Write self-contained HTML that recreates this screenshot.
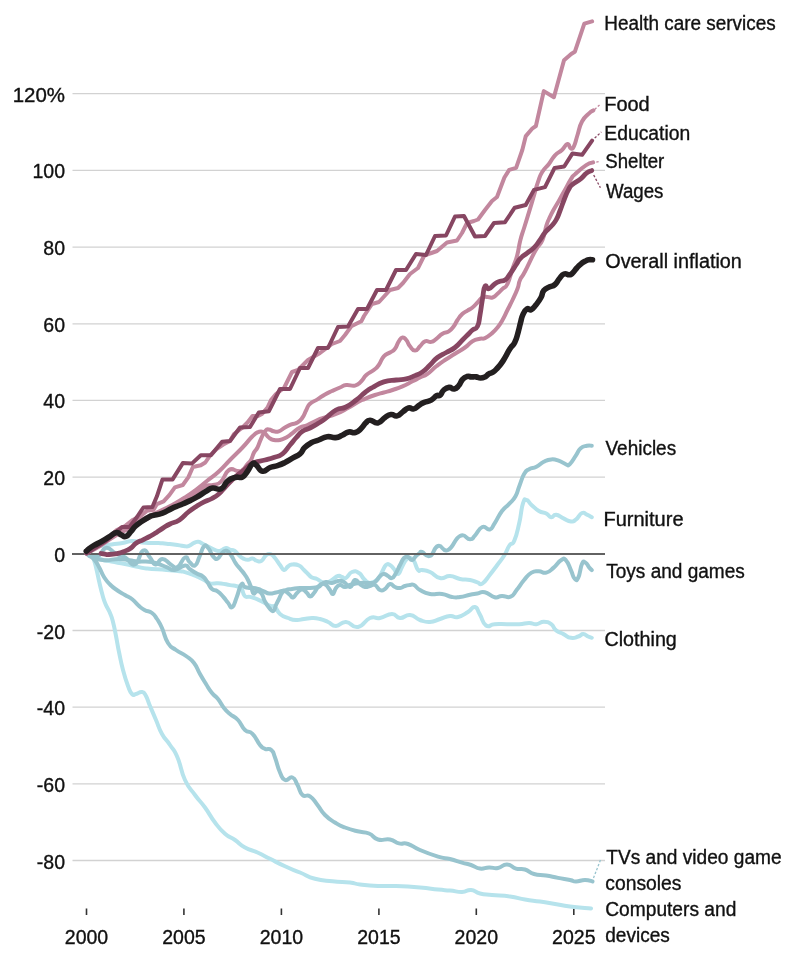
<!DOCTYPE html>
<html><head><meta charset="utf-8"><style>
html,body{margin:0;padding:0;background:#fff;}
svg{display:block;will-change:transform;}
text{font-family:'Liberation Sans',sans-serif;font-size:19.5px;fill:#111;stroke:#111;stroke-width:0.35px;}
</style></head><body>
<svg width="800" height="975" viewBox="0 0 800 975">
<rect width="800" height="975" fill="#fff"/>
<line x1="72.5" x2="605" y1="93.7" y2="93.7" stroke="#d2d2d2" stroke-width="1.3"/>
<line x1="72.5" x2="605" y1="170.4" y2="170.4" stroke="#d2d2d2" stroke-width="1.3"/>
<line x1="72.5" x2="605" y1="247.1" y2="247.1" stroke="#d2d2d2" stroke-width="1.3"/>
<line x1="72.5" x2="605" y1="323.8" y2="323.8" stroke="#d2d2d2" stroke-width="1.3"/>
<line x1="72.5" x2="605" y1="400.4" y2="400.4" stroke="#d2d2d2" stroke-width="1.3"/>
<line x1="72.5" x2="605" y1="477.1" y2="477.1" stroke="#d2d2d2" stroke-width="1.3"/>
<line x1="72.5" x2="605" y1="630.5" y2="630.5" stroke="#d2d2d2" stroke-width="1.3"/>
<line x1="72.5" x2="605" y1="707.2" y2="707.2" stroke="#d2d2d2" stroke-width="1.3"/>
<line x1="72.5" x2="605" y1="783.8" y2="783.8" stroke="#d2d2d2" stroke-width="1.3"/>
<line x1="72.5" x2="605" y1="860.5" y2="860.5" stroke="#d2d2d2" stroke-width="1.3"/>
<text x="65" y="101.7" text-anchor="end" textLength="52.3" lengthAdjust="spacingAndGlyphs">120%</text>
<text x="65" y="178.4" text-anchor="end">100</text>
<text x="65" y="255.1" text-anchor="end">80</text>
<text x="65" y="331.8" text-anchor="end">60</text>
<text x="65" y="408.4" text-anchor="end">40</text>
<text x="65" y="485.1" text-anchor="end">20</text>
<text x="65" y="561.8" text-anchor="end">0</text>
<text x="65" y="638.5" text-anchor="end">-20</text>
<text x="65" y="715.2" text-anchor="end">-40</text>
<text x="65" y="791.8" text-anchor="end">-60</text>
<text x="65" y="868.5" text-anchor="end">-80</text>
<line x1="86.5" x2="86.5" y1="908.5" y2="915" stroke="#333" stroke-width="1.6"/>
<text x="86.5" y="944" text-anchor="middle">2000</text>
<line x1="183.9" x2="183.9" y1="908.5" y2="915" stroke="#333" stroke-width="1.6"/>
<text x="183.9" y="944" text-anchor="middle">2005</text>
<line x1="281.4" x2="281.4" y1="908.5" y2="915" stroke="#333" stroke-width="1.6"/>
<text x="281.4" y="944" text-anchor="middle">2010</text>
<line x1="378.9" x2="378.9" y1="908.5" y2="915" stroke="#333" stroke-width="1.6"/>
<text x="378.9" y="944" text-anchor="middle">2015</text>
<line x1="476.3" x2="476.3" y1="908.5" y2="915" stroke="#333" stroke-width="1.6"/>
<text x="476.3" y="944" text-anchor="middle">2020</text>
<line x1="573.8" x2="573.8" y1="908.5" y2="915" stroke="#333" stroke-width="1.6"/>
<text x="573.8" y="944" text-anchor="middle">2025</text>
<path d="M86.5,553.5 C88.0,552.3 89.0,550.9 92.0,549.0 C95.0,547.1 92.6,547.7 97.8,546.5 C103.0,545.3 104.9,545.3 111.5,544.4 C118.1,543.5 117.0,543.9 122.5,543.0 C128.0,542.1 127.0,541.2 132.1,541.0 C137.2,540.8 137.0,541.9 141.8,542.4 C146.6,542.9 145.6,542.8 150.0,543.0 C154.4,543.2 153.9,542.8 158.3,543.0 C162.7,543.2 161.4,543.3 166.5,543.8 C171.6,544.3 172.6,544.3 177.5,545.0 C182.4,545.7 181.8,546.1 185.0,546.3 C188.2,546.5 187.1,546.6 189.5,545.7 C191.9,544.8 191.6,543.9 194.0,542.9 C196.4,541.9 196.1,541.5 198.5,541.8 C200.9,542.1 200.6,542.8 203.0,544.0 C205.4,545.2 204.8,545.0 207.5,546.3 C210.2,547.6 210.2,547.7 213.0,549.0 C215.8,550.3 215.6,550.7 218.0,551.0 C220.4,551.3 219.9,550.8 222.0,550.0 C224.1,549.2 223.9,548.1 226.0,548.0 C228.1,547.9 227.7,548.9 230.0,549.6 C232.3,550.3 232.1,549.3 234.5,550.8 C236.9,552.3 236.6,553.2 239.0,555.3 C241.4,557.4 241.1,557.4 243.5,558.6 C245.9,559.8 245.6,559.8 248.0,559.8 C250.4,559.8 250.1,558.3 252.5,558.6 C254.9,558.9 254.6,560.3 257.0,560.9 C259.4,561.5 259.1,562.4 261.5,560.9 C263.9,559.4 263.6,557.1 266.0,555.3 C268.4,553.5 268.1,553.4 270.5,554.1 C272.9,554.8 272.5,555.1 275.0,558.0 C277.5,560.9 277.6,561.8 280.0,565.0 C282.4,568.2 281.9,569.6 284.0,570.0 C286.1,570.4 285.9,568.0 288.0,566.5 C290.1,565.0 289.1,564.8 292.0,564.5 C294.9,564.2 295.8,564.0 299.0,565.5 C302.2,567.0 301.3,567.5 304.0,570.0 C306.7,572.5 306.9,573.0 309.0,575.0 C311.1,577.0 309.9,576.4 312.0,577.5 C314.1,578.6 314.6,577.9 317.0,579.0 C319.4,580.1 318.6,580.4 321.0,581.5 C323.4,582.6 323.1,583.4 326.0,583.0 C328.9,582.6 328.8,581.9 332.0,580.0 C335.2,578.1 335.3,576.8 338.0,576.0 C340.7,575.2 339.9,576.5 342.0,577.0 C344.1,577.5 343.3,579.3 346.0,578.0 C348.7,576.7 348.5,573.3 352.0,572.0 C355.5,570.7 355.8,571.1 359.0,573.0 C362.2,574.9 361.1,576.3 364.0,579.0 C366.9,581.7 366.3,583.0 370.0,583.0 C373.7,583.0 374.8,581.9 378.0,579.0 C381.2,576.1 379.9,575.7 382.0,572.0 C384.1,568.3 383.9,566.9 386.0,565.0 C388.1,563.1 387.9,563.9 390.0,565.0 C392.1,566.1 391.9,566.6 394.0,569.0 C396.1,571.4 395.9,574.5 398.0,574.0 C400.1,573.5 399.9,570.7 402.0,567.0 C404.1,563.3 403.9,562.4 406.0,560.0 C408.1,557.6 407.9,557.7 410.0,558.0 C412.1,558.3 411.9,557.8 414.0,561.0 C416.1,564.2 415.9,567.6 418.0,570.0 C420.1,572.4 418.8,569.5 422.0,570.0 C425.2,570.5 425.2,569.9 430.0,572.0 C434.8,574.1 434.7,576.9 440.0,578.0 C445.3,579.1 444.7,575.7 450.0,576.0 C455.3,576.3 454.7,577.9 460.0,579.0 C465.3,580.1 465.4,579.1 470.0,580.0 C474.6,580.9 474.1,581.4 477.4,582.4 C480.7,583.4 479.0,585.6 482.3,583.6 C485.6,581.6 485.8,579.9 489.7,575.0 C493.6,570.1 493.2,570.5 497.1,565.2 C501.0,559.9 501.1,560.6 504.4,555.3 C507.7,550.0 506.8,549.4 509.4,545.5 C512.0,541.6 511.7,546.5 514.3,540.6 C516.9,534.7 516.9,533.1 519.2,523.3 C521.5,513.5 520.9,509.9 522.9,503.7 C524.9,497.5 524.3,499.7 526.6,500.0 C528.9,500.3 528.2,502.0 531.5,504.9 C534.8,507.8 535.0,508.7 538.9,511.0 C542.8,513.3 543.0,511.8 546.3,513.5 C549.6,515.2 548.6,516.9 551.2,517.2 C553.8,517.5 552.8,514.4 556.1,514.7 C559.4,515.0 559.6,516.6 563.5,518.4 C567.4,520.2 567.6,521.1 570.9,521.4 C574.2,521.7 572.8,521.9 575.8,519.7 C578.8,517.5 579.0,514.3 582.0,513.0 C585.0,511.7 584.3,513.6 586.9,514.7 C589.5,515.8 590.5,516.5 591.8,517.2" fill="none" stroke="#b6e3ec" stroke-width="4.0" stroke-linejoin="round" stroke-linecap="round"/>
<path d="M86.5,553.5 C90.1,555.0 93.3,556.8 100.0,559.0 C106.7,561.2 104.8,560.3 111.5,561.6 C118.2,562.9 117.7,562.5 125.0,564.0 C132.3,565.5 133.1,565.9 139.0,567.1 C144.9,568.3 140.0,567.8 147.3,568.5 C154.6,569.2 157.7,569.2 166.5,569.9 C175.3,570.6 175.4,570.7 180.3,571.3 C185.2,571.9 181.9,571.3 185.0,572.1 C188.1,572.9 188.3,573.1 191.8,574.4 C195.3,575.7 194.7,575.5 198.0,577.0 C201.3,578.5 201.0,578.3 204.1,580.0 C207.2,581.7 207.1,582.5 209.8,583.4 C212.5,584.3 211.3,583.4 214.3,583.4 C217.3,583.4 216.8,582.9 221.0,583.4 C225.2,583.9 225.8,584.4 230.0,585.1 C234.2,585.8 233.8,585.5 236.8,586.2 C239.8,586.9 239.2,585.3 241.3,587.9 C243.4,590.5 242.2,593.4 244.6,595.8 C247.0,598.2 247.0,596.0 250.3,596.9 C253.6,597.8 253.4,597.6 257.0,599.1 C260.6,600.6 260.2,600.7 263.8,602.5 C267.4,604.3 267.5,604.7 270.5,605.9 C273.5,607.1 272.5,604.8 275.0,607.0 C277.5,609.2 276.5,611.1 280.0,614.0 C283.5,616.9 283.7,616.4 288.0,618.0 C292.3,619.6 291.7,619.7 296.0,620.0 C300.3,620.3 299.7,619.5 304.0,619.0 C308.3,618.5 307.7,618.0 312.0,618.0 C316.3,618.0 315.7,617.9 320.0,619.0 C324.3,620.1 323.7,620.1 328.0,622.0 C332.3,623.9 331.2,626.0 336.0,626.0 C340.8,626.0 340.1,621.7 346.0,622.0 C351.9,622.3 351.6,628.1 358.0,627.0 C364.4,625.9 364.1,620.4 370.0,618.0 C375.9,615.6 374.1,619.1 380.0,618.0 C385.9,616.9 386.7,614.0 392.0,614.0 C397.3,614.0 395.2,617.7 400.0,618.0 C404.8,618.3 404.7,614.5 410.0,615.0 C415.3,615.5 414.7,618.1 420.0,620.0 C425.3,621.9 424.7,622.3 430.0,622.0 C435.3,621.7 434.7,620.6 440.0,619.0 C445.3,617.4 445.2,616.5 450.0,616.0 C454.8,615.5 453.2,618.1 458.0,617.0 C462.8,615.9 463.5,614.7 468.0,612.0 C472.5,609.3 471.8,606.4 474.9,607.0 C478.0,607.6 476.8,609.5 479.8,614.4 C482.8,619.3 482.1,622.9 486.0,625.5 C489.9,628.1 489.0,624.5 494.6,624.2 C500.2,623.9 500.3,624.2 506.9,624.2 C513.5,624.2 513.3,624.5 519.2,624.2 C525.1,623.9 524.5,623.0 529.1,623.0 C533.7,623.0 532.5,624.5 536.4,624.2 C540.3,623.9 539.9,621.8 543.8,621.8 C547.7,621.8 547.9,621.9 551.2,624.2 C554.5,626.5 552.8,627.8 556.1,630.4 C559.4,633.0 559.6,632.1 563.5,634.1 C567.4,636.1 567.0,637.2 570.9,637.8 C574.8,638.4 575.0,637.5 578.3,636.5 C581.6,635.5 580.6,634.1 583.2,634.1 C585.8,634.1 585.8,635.5 588.1,636.5 C590.4,637.5 590.8,637.5 591.8,637.8" fill="none" stroke="#b6e3ec" stroke-width="4.0" stroke-linejoin="round" stroke-linecap="round"/>
<path d="M86.5,553.5 C87.4,553.9 88.1,553.5 90.0,555.0 C91.9,556.5 91.8,555.1 93.5,559.0 C95.2,562.9 94.9,563.1 96.5,569.5 C98.1,575.9 97.9,576.2 99.5,583.0 C101.1,589.8 100.9,589.4 102.5,595.0 C104.1,600.6 103.5,599.2 105.5,604.0 C107.5,608.8 108.0,608.2 110.0,613.0 C112.0,617.8 111.4,615.9 113.0,622.0 C114.6,628.1 114.4,628.0 116.0,636.0 C117.6,644.0 117.1,642.9 119.0,652.0 C120.9,661.1 120.6,660.9 123.0,670.0 C125.4,679.1 125.6,679.6 128.0,686.0 C130.4,692.4 129.9,691.9 132.0,694.0 C134.1,696.1 133.3,694.5 136.0,694.0 C138.7,693.5 139.3,691.5 142.0,692.0 C144.7,692.5 143.9,692.3 146.0,696.0 C148.1,699.7 147.3,699.6 150.0,706.0 C152.7,712.4 152.8,712.5 156.0,720.0 C159.2,727.5 158.3,727.3 162.0,734.0 C165.7,740.7 165.9,738.7 170.0,745.0 C174.1,751.3 173.5,748.2 177.5,757.5 C181.5,766.8 180.3,770.0 185.0,780.0 C189.7,790.0 189.7,787.7 195.0,795.0 C200.3,802.3 199.7,800.2 205.0,807.5 C210.3,814.8 209.7,815.5 215.0,822.5 C220.3,829.5 219.7,829.1 225.0,833.8 C230.3,838.5 229.7,836.3 235.0,840.0 C240.3,843.7 239.0,844.2 245.0,847.5 C251.0,850.8 250.8,849.5 257.5,852.5 C264.2,855.5 262.7,855.1 270.0,858.8 C277.3,862.5 277.0,862.6 285.0,866.3 C293.0,870.0 292.0,869.2 300.0,872.5 C308.0,875.8 306.3,876.5 315.0,878.8 C323.7,881.1 323.2,880.3 332.5,881.3 C341.8,882.3 342.7,881.6 350.0,882.5 C357.3,883.4 352.5,883.6 360.0,884.5 C367.5,885.4 368.4,885.6 378.0,886.0 C387.6,886.4 384.8,885.6 396.0,886.0 C407.2,886.4 408.8,886.5 420.0,887.5 C431.2,888.5 430.0,888.8 438.0,889.6 C446.0,890.4 443.6,889.9 450.0,890.5 C456.4,891.1 456.4,892.1 462.0,892.0 C467.6,891.9 466.2,889.6 471.0,890.0 C475.8,890.4 474.4,892.2 480.0,893.5 C485.6,894.8 484.0,894.2 492.0,895.0 C500.0,895.8 501.2,895.3 510.0,896.5 C518.8,897.7 517.0,898.1 525.0,899.5 C533.0,900.9 532.0,900.4 540.0,901.6 C548.0,902.8 547.0,902.7 555.0,904.0 C563.0,905.3 560.4,905.2 570.0,906.4 C579.6,907.6 585.4,907.9 591.0,908.5" fill="none" stroke="#b6e3ec" stroke-width="4.0" stroke-linejoin="round" stroke-linecap="round"/>
<path d="M86.5,553.5 C88.0,554.6 87.5,555.7 92.3,557.5 C97.1,559.3 97.6,559.9 104.6,560.3 C111.6,560.7 111.8,558.9 118.4,558.9 C125.0,558.9 124.3,559.6 129.4,560.3 C134.5,561.0 133.2,561.3 137.6,561.6 C142.0,561.9 141.1,561.2 145.9,561.6 C150.7,562.0 150.0,561.5 155.5,563.0 C161.0,564.5 161.4,565.3 166.5,567.1 C171.6,568.9 169.9,570.4 174.8,569.9 C179.7,569.4 181.1,565.7 185.0,565.4 C188.9,565.1 186.5,566.7 189.5,568.8 C192.5,570.9 192.7,571.2 196.3,573.3 C199.9,575.4 200.0,574.2 203.0,576.6 C206.0,579.0 205.1,579.0 207.5,582.3 C209.9,585.6 209.3,586.6 212.0,589.0 C214.7,591.4 214.6,589.2 217.6,591.3 C220.6,593.4 220.6,593.9 223.3,596.9 C226.0,599.9 225.4,599.8 227.8,602.5 C230.2,605.2 229.9,608.5 232.3,607.0 C234.7,605.5 234.4,602.9 236.8,596.9 C239.2,590.9 239.2,587.2 241.3,584.5 C243.4,581.8 242.5,585.9 244.6,586.8 C246.7,587.7 246.7,587.6 249.1,587.9 C251.5,588.2 251.2,587.6 253.6,587.9 C256.0,588.2 255.4,588.1 258.1,589.0 C260.8,589.9 260.8,590.1 263.8,591.3 C266.8,592.5 266.1,593.2 269.4,593.5 C272.7,593.8 272.6,593.2 276.0,592.5 C279.4,591.8 279.6,591.4 282.0,591.0 C284.4,590.6 282.9,589.9 285.0,591.0 C287.1,592.1 287.9,593.3 290.0,595.0 C292.1,596.7 291.1,598.0 293.0,597.5 C294.9,597.0 294.6,595.1 297.0,593.0 C299.4,590.9 299.3,589.5 302.0,589.5 C304.7,589.5 304.9,591.1 307.0,593.0 C309.1,594.9 308.1,596.5 310.0,596.5 C311.9,596.5 311.9,595.5 314.0,593.0 C316.1,590.5 315.9,589.4 318.0,587.0 C320.1,584.6 319.9,584.5 322.0,584.0 C324.1,583.5 323.9,583.4 326.0,585.0 C328.1,586.6 328.1,587.6 330.0,590.0 C331.9,592.4 331.4,594.5 333.0,594.0 C334.6,593.5 334.1,590.4 336.0,588.0 C337.9,585.6 337.6,585.3 340.0,585.0 C342.4,584.7 342.3,587.0 345.0,587.0 C347.7,587.0 346.0,586.1 350.0,585.0 C354.0,583.9 354.7,583.5 360.0,583.0 C365.3,582.5 366.0,583.3 370.0,583.0 C374.0,582.7 372.3,583.9 375.0,582.0 C377.7,580.1 377.6,578.1 380.0,576.0 C382.4,573.9 381.9,574.0 384.0,574.0 C386.1,574.0 385.9,574.9 388.0,576.0 C390.1,577.1 389.9,578.8 392.0,578.0 C394.1,577.2 393.9,576.5 396.0,573.0 C398.1,569.5 397.9,569.0 400.0,565.0 C402.1,561.0 401.9,560.1 404.0,558.0 C406.1,555.9 405.9,556.5 408.0,557.0 C410.1,557.5 409.9,560.3 412.0,560.0 C414.1,559.7 413.9,557.9 416.0,556.0 C418.1,554.1 418.4,554.1 420.0,553.0 C421.6,551.9 419.3,551.2 422.0,552.0 C424.7,552.8 425.7,557.6 430.0,556.0 C434.3,554.4 433.2,547.6 438.0,546.0 C442.8,544.4 442.1,552.7 448.0,550.0 C453.9,547.3 454.1,538.9 460.0,536.0 C465.9,533.1 466.0,539.4 470.0,539.3 C474.0,539.2 471.6,538.9 474.9,535.6 C478.2,532.3 478.4,528.6 482.3,527.0 C486.2,525.4 486.4,530.5 489.7,529.5 C493.0,528.5 491.3,528.2 494.6,523.3 C497.9,518.4 498.1,516.2 502.0,511.0 C505.9,505.8 505.8,507.6 509.4,503.7 C513.0,499.8 512.9,500.9 515.5,496.3 C518.1,491.7 516.9,492.3 519.2,486.4 C521.5,480.5 521.5,478.7 524.1,474.1 C526.7,469.5 525.8,471.1 529.1,469.2 C532.4,467.3 532.5,468.8 536.4,466.8 C540.3,464.8 539.9,463.8 543.8,461.8 C547.7,459.8 547.3,459.7 551.2,459.4 C555.1,459.1 554.7,459.3 558.6,460.6 C562.5,461.9 563.0,463.3 566.0,464.3 C569.0,465.3 567.1,466.6 569.7,464.3 C572.3,462.0 572.9,460.0 575.8,455.7 C578.7,451.4 577.7,450.9 580.7,448.3 C583.7,445.7 583.9,446.5 586.9,445.8 C589.9,445.1 590.5,445.8 591.8,445.8" fill="none" stroke="#98c4ce" stroke-width="4.0" stroke-linejoin="round" stroke-linecap="round"/>
<path d="M86.5,553.5 C89.5,554.2 92.6,557.5 97.8,556.0 C103.0,554.5 101.3,548.6 106.0,547.9 C110.7,547.2 110.5,550.8 115.6,553.4 C120.7,556.0 120.2,554.6 125.3,557.5 C130.4,560.4 130.2,566.2 134.9,564.4 C139.6,562.6 139.1,552.4 143.1,550.6 C147.1,548.8 146.7,553.8 150.0,557.5 C153.3,561.2 152.2,564.0 155.5,564.4 C158.8,564.8 158.3,558.9 162.4,558.9 C166.5,558.9 166.7,562.2 170.7,564.4 C174.7,566.6 173.7,568.9 177.5,567.1 C181.3,565.3 181.8,558.9 185.0,557.5 C188.2,556.1 186.8,559.9 189.5,562.0 C192.2,564.1 192.3,566.9 195.0,565.4 C197.7,563.9 197.2,561.5 199.6,556.4 C202.0,551.3 201.7,548.4 204.1,546.3 C206.5,544.2 206.2,545.8 208.6,548.5 C211.0,551.2 210.7,553.7 213.1,556.4 C215.5,559.1 215.2,559.5 217.6,558.6 C220.0,557.7 219.7,555.1 222.1,553.0 C224.5,550.9 224.2,550.2 226.6,550.8 C229.0,551.4 228.7,552.0 231.1,555.3 C233.5,558.6 233.2,559.5 235.6,563.1 C238.0,566.7 237.7,565.8 240.1,568.8 C242.5,571.8 242.5,571.4 244.6,574.4 C246.7,577.4 246.2,576.4 248.0,580.0 C249.8,583.6 249.9,584.3 251.4,587.9 C252.9,591.5 252.1,592.6 253.6,593.5 C255.1,594.4 254.9,591.3 257.0,591.3 C259.1,591.3 259.4,590.8 261.5,593.5 C263.6,596.2 262.8,597.5 264.9,601.4 C267.0,605.3 267.1,605.5 269.4,608.1 C271.7,610.7 271.7,611.8 273.5,611.0 C275.3,610.2 274.5,608.2 276.0,605.0 C277.5,601.8 277.4,602.2 279.0,599.0 C280.6,595.8 280.1,595.4 282.0,593.0 C283.9,590.6 283.3,591.1 286.0,590.0 C288.7,588.9 288.3,589.5 292.0,589.0 C295.7,588.5 295.2,588.3 300.0,588.0 C304.8,587.7 305.2,588.3 310.0,588.0 C314.8,587.7 314.8,588.1 318.0,587.0 C321.2,585.9 319.9,585.3 322.0,584.0 C324.1,582.7 323.3,582.3 326.0,582.0 C328.7,581.7 328.8,583.3 332.0,583.0 C335.2,582.7 334.8,581.3 338.0,581.0 C341.2,580.7 340.8,580.4 344.0,582.0 C347.2,583.6 347.1,587.5 350.0,587.0 C352.9,586.5 352.3,580.8 355.0,580.0 C357.7,579.2 357.3,582.1 360.0,584.0 C362.7,585.9 362.3,586.5 365.0,587.0 C367.7,587.5 367.3,586.5 370.0,586.0 C372.7,585.5 372.3,583.9 375.0,585.0 C377.7,586.1 377.3,588.9 380.0,590.0 C382.7,591.1 382.3,590.6 385.0,589.0 C387.7,587.4 387.3,584.5 390.0,584.0 C392.7,583.5 392.3,585.9 395.0,587.0 C397.7,588.1 397.3,588.3 400.0,588.0 C402.7,587.7 402.3,586.8 405.0,586.0 C407.7,585.2 407.6,585.3 410.0,585.0 C412.4,584.7 411.3,583.7 414.0,585.0 C416.7,586.3 415.7,587.6 420.0,590.0 C424.3,592.4 424.1,592.9 430.0,594.0 C435.9,595.1 436.1,593.2 442.0,594.0 C447.9,594.8 447.2,596.2 452.0,597.0 C456.8,597.8 455.2,597.6 460.0,597.0 C464.8,596.4 465.4,595.6 470.0,594.7 C474.6,593.8 473.5,594.2 477.4,593.5 C481.3,592.8 480.2,591.2 484.8,592.2 C489.4,593.2 490.0,596.2 494.6,597.2 C499.2,598.2 497.7,596.0 502.0,595.9 C506.3,595.8 506.7,598.3 510.6,596.7 C514.5,595.1 513.2,594.3 516.8,589.8 C520.4,585.3 520.2,584.6 524.1,580.0 C528.0,575.4 527.6,574.9 531.5,572.6 C535.4,570.3 535.0,571.3 538.9,571.3 C542.8,571.3 542.4,573.6 546.3,572.6 C550.2,571.6 549.8,570.9 553.7,567.6 C557.6,564.3 557.7,562.2 561.0,560.3 C564.3,558.4 563.4,557.7 566.0,560.3 C568.6,562.9 568.6,565.2 570.9,570.1 C573.2,575.0 572.6,576.7 574.6,578.7 C576.6,580.7 576.3,581.4 578.3,577.5 C580.3,573.6 580.1,567.8 582.0,563.9 C583.9,560.0 583.7,561.7 585.6,562.7 C587.5,563.7 587.6,565.6 589.3,567.6 C591.0,569.6 591.1,569.4 591.8,570.1" fill="none" stroke="#98c4ce" stroke-width="4.0" stroke-linejoin="round" stroke-linecap="round"/>
<path d="M86.5,553.5 C87.2,553.8 86.7,552.6 89.0,554.5 C91.3,556.4 92.2,556.9 95.0,560.5 C97.8,564.1 97.1,563.6 99.5,568.0 C101.9,572.4 101.2,572.6 104.0,577.0 C106.8,581.4 106.4,580.9 110.0,584.5 C113.6,588.1 113.5,587.7 117.5,590.5 C121.5,593.3 121.0,592.6 125.0,595.0 C129.0,597.4 128.9,596.7 132.5,599.5 C136.1,602.3 135.3,602.7 138.5,605.5 C141.7,608.3 140.9,608.0 144.5,610.0 C148.1,612.0 148.7,610.6 152.0,613.0 C155.3,615.4 154.3,615.0 157.0,619.0 C159.7,623.0 159.1,621.6 162.0,628.0 C164.9,634.4 164.3,637.1 168.0,643.0 C171.7,648.9 171.2,646.5 176.0,650.0 C180.8,653.5 181.2,652.5 186.0,656.0 C190.8,659.5 190.3,658.2 194.0,663.0 C197.7,667.8 196.8,668.4 200.0,674.0 C203.2,679.6 202.8,678.9 206.0,684.0 C209.2,689.1 208.8,689.0 212.0,693.0 C215.2,697.0 214.8,695.0 218.0,699.0 C221.2,703.0 220.8,704.0 224.0,708.0 C227.2,712.0 226.3,710.8 230.0,714.0 C233.7,717.2 234.0,715.7 238.0,720.0 C242.0,724.3 241.1,726.3 245.0,730.0 C248.9,733.7 248.5,729.8 252.5,733.8 C256.5,737.8 256.7,741.0 260.0,745.0 C263.3,749.0 262.0,747.5 265.0,748.8 C268.0,750.1 268.6,747.7 271.3,750.0 C274.0,752.3 272.7,751.5 275.0,757.5 C277.3,763.5 277.3,766.5 280.0,772.5 C282.7,778.5 281.7,778.7 285.0,780.0 C288.3,781.3 289.2,776.2 292.5,777.5 C295.8,778.8 294.8,780.3 297.5,785.0 C300.2,789.7 299.2,792.0 302.5,795.0 C305.8,798.0 306.0,793.6 310.0,796.3 C314.0,799.0 313.5,800.0 317.5,805.0 C321.5,810.0 320.3,810.3 325.0,815.0 C329.7,819.7 329.7,819.2 335.0,822.5 C340.3,825.8 339.0,825.2 345.0,827.5 C351.0,829.8 351.1,829.7 357.5,831.3 C363.9,832.9 363.5,831.3 369.0,833.5 C374.5,835.7 372.4,837.9 378.0,839.5 C383.6,841.1 384.4,838.5 390.0,839.5 C395.6,840.5 394.2,842.2 399.0,843.4 C403.8,844.6 402.4,842.2 408.0,844.0 C413.6,845.8 412.0,846.6 420.0,850.0 C428.0,853.4 430.0,854.2 438.0,856.6 C446.0,859.0 443.6,857.4 450.0,859.0 C456.4,860.6 456.4,861.0 462.0,862.6 C467.6,864.2 466.2,863.4 471.0,865.0 C475.8,866.6 475.2,868.0 480.0,868.6 C484.8,869.2 484.2,867.6 489.0,867.4 C493.8,867.2 493.2,868.8 498.0,868.0 C502.8,867.2 502.2,864.2 507.0,864.4 C511.8,864.6 511.2,867.2 516.0,868.6 C520.8,870.0 520.2,868.1 525.0,869.5 C529.8,870.9 528.4,872.4 534.0,874.0 C539.6,875.6 539.6,874.5 546.0,875.5 C552.4,876.5 551.6,876.7 558.0,877.9 C564.4,879.1 565.2,879.0 570.0,880.0 C574.8,881.0 572.0,881.5 576.0,881.5 C580.0,881.5 580.6,880.0 585.0,880.0 C589.4,880.0 590.5,881.1 592.5,881.5" fill="none" stroke="#98c4ce" stroke-width="4.0" stroke-linejoin="round" stroke-linecap="round"/>
<line x1="72" x2="605" y1="553.9" y2="553.9" stroke="#626262" stroke-width="2"/>
<polyline points="86.5,553.5 95.0,548.0 105.0,541.0 116.8,530.0 125.0,526.0 132.5,520.0 140.0,516.5 146.8,510.9 153.5,509.8 156.9,504.1 163.6,501.3 169.3,495.1 174.9,487.3 182.8,485.0 188.4,477.1 192.9,467.0 200.8,465.3 205.3,462.5 209.8,455.8 216.5,449.0 223.3,444.5 230.0,441.0 234.0,434.0 242.0,428.0 247.5,422.5 252.5,416.0 258.0,416.0 262.0,414.0 267.5,407.5 271.0,400.0 276.0,394.0 284.0,388.0 292.0,372.0 298.0,370.0 308.0,360.0 320.0,353.0 332.0,344.0 340.0,341.0 345.0,335.0 351.3,326.3 356.3,323.8 361.3,321.3 364.0,316.0 372.0,304.0 379.0,302.0 390.0,290.0 398.0,288.0 403.0,283.0 410.0,274.0 418.0,268.0 424.0,256.0 430.0,253.5 437.0,251.0 447.0,242.5 457.0,240.5 462.0,233.0 467.0,223.0 474.0,221.0 478.0,219.5 485.0,210.0 492.0,201.0 497.0,197.0 504.4,177.5 509.2,169.9 516.1,167.9 522.3,150.0 525.8,136.1 532.5,128.3 535.9,126.0 543.8,91.1 553.9,97.2 564.0,60.3 571.2,54.0 574.8,51.8 584.3,23.6 592.1,21.4" fill="none" stroke="#c2879e" stroke-width="4.0" stroke-linejoin="round" stroke-linecap="round"/>
<path d="M86.5,553.5 C90.1,551.5 92.4,550.7 100.0,546.0 C107.6,541.3 107.0,540.8 115.0,536.0 C123.0,531.2 122.0,532.3 130.0,528.0 C138.0,523.7 137.0,524.3 145.0,520.0 C153.0,515.7 152.8,515.7 160.0,512.0 C167.2,508.3 165.3,509.3 172.0,506.0 C178.7,502.7 178.5,503.1 185.0,499.6 C191.5,496.1 190.9,496.5 196.3,492.9 C201.7,489.3 200.8,488.2 205.3,486.1 C209.8,484.0 208.9,486.2 213.1,485.0 C217.3,483.8 216.8,485.6 221.0,481.6 C225.2,477.6 224.6,472.8 229.0,470.0 C233.4,467.2 233.9,471.0 237.5,471.0 C241.1,471.0 239.8,471.9 242.5,470.0 C245.2,468.1 245.2,466.7 247.5,464.0 C249.8,461.3 249.3,463.1 251.0,460.0 C252.7,456.9 252.3,455.8 254.0,452.5 C255.7,449.2 255.6,451.2 257.5,447.5 C259.4,443.8 259.0,443.1 261.0,438.8 C263.0,434.5 262.9,433.8 265.0,431.3 C267.1,428.8 266.5,429.4 268.8,429.4 C271.1,429.4 271.1,430.8 273.8,431.3 C276.5,431.8 275.8,432.3 278.8,431.3 C281.8,430.3 281.7,429.3 285.0,427.5 C288.3,425.7 288.0,425.7 291.3,424.4 C294.6,423.1 294.5,424.3 297.5,422.5 C300.5,420.7 300.2,420.8 302.5,417.5 C304.8,414.2 304.3,413.7 306.3,410.0 C308.3,406.3 307.0,406.6 310.0,403.8 C313.0,401.0 313.5,401.9 317.5,399.4 C321.5,396.9 321.1,396.6 325.0,394.4 C328.9,392.2 328.0,392.8 332.0,391.0 C336.0,389.2 336.2,389.1 340.0,387.5 C343.8,385.9 342.3,385.5 346.3,385.0 C350.3,384.5 351.0,386.6 355.0,385.6 C359.0,384.6 358.3,384.1 361.3,381.3 C364.3,378.5 363.0,378.0 366.3,375.0 C369.6,372.0 370.5,372.7 373.8,370.0 C377.1,367.3 376.1,368.7 378.8,365.0 C381.5,361.3 380.8,359.6 383.8,356.3 C386.8,353.0 387.0,354.5 390.0,352.5 C393.0,350.5 392.7,351.8 395.0,348.8 C397.3,345.8 396.8,344.3 398.8,341.3 C400.8,338.3 400.5,337.8 402.5,337.5 C404.5,337.2 404.3,337.7 406.3,340.0 C408.3,342.3 407.7,343.5 410.0,346.3 C412.3,349.1 412.3,350.6 415.0,350.6 C417.7,350.6 417.3,348.8 420.0,346.3 C422.7,343.8 422.0,342.5 425.0,341.3 C428.0,340.1 428.3,342.6 431.3,341.9 C434.3,341.2 433.3,341.0 436.3,338.8 C439.3,336.6 439.2,335.8 442.5,333.8 C445.8,331.8 445.8,333.3 448.8,331.3 C451.8,329.3 451.5,329.3 453.8,326.3 C456.1,323.3 455.2,323.3 457.5,320.0 C459.8,316.7 459.8,316.3 462.5,313.8 C465.2,311.3 464.8,312.3 467.5,310.6 C470.2,308.9 469.8,309.7 472.5,307.5 C475.2,305.3 474.8,305.2 477.5,302.5 C480.2,299.8 479.8,299.0 482.5,297.5 C485.2,296.0 484.8,296.9 487.5,296.9 C490.2,296.9 489.8,298.3 492.5,297.5 C495.2,296.7 494.8,296.1 497.5,293.8 C500.2,291.5 499.8,291.5 502.5,288.8 C505.2,286.1 504.8,289.3 507.5,283.8 C510.2,278.3 510.2,275.5 512.8,268.0 C515.4,260.5 515.1,263.1 517.1,255.8 C519.1,248.5 518.3,248.4 520.2,240.7 C522.1,233.0 521.8,235.4 524.4,227.0 C527.0,218.6 527.3,217.5 529.9,209.1 C532.5,200.7 531.8,202.7 534.0,195.4 C536.2,188.1 535.9,187.8 538.1,181.6 C540.3,175.4 539.3,176.8 542.2,172.0 C545.1,167.2 545.7,168.2 549.1,163.7 C552.5,159.2 551.6,159.0 555.0,155.3 C558.4,151.6 558.7,153.0 562.0,150.0 C565.3,147.0 565.1,144.4 567.4,144.0 C569.7,143.6 569.0,148.0 570.8,148.5 C572.6,149.0 572.3,149.4 574.1,145.8 C575.9,142.2 575.4,141.5 577.5,135.0 C579.6,128.5 579.0,127.2 582.0,121.5 C585.0,115.8 585.8,116.6 588.8,113.6 C591.8,110.6 592.1,111.2 593.3,110.3" fill="none" stroke="#c2879e" stroke-width="4.0" stroke-linejoin="round" stroke-linecap="round"/>
<path d="M86.5,553.5 C90.1,551.2 92.4,549.9 100.0,545.0 C107.6,540.1 107.0,540.1 115.0,535.0 C123.0,529.9 122.0,530.5 130.0,526.0 C138.0,521.5 136.3,522.3 145.0,518.0 C153.7,513.7 154.8,513.5 162.5,509.8 C170.2,506.1 167.8,507.4 173.8,504.1 C179.8,500.8 179.0,501.3 185.0,497.4 C191.0,493.5 190.3,494.0 196.3,489.5 C202.3,485.0 201.5,485.3 207.5,480.5 C213.5,475.7 212.8,477.0 218.8,471.5 C224.8,466.0 223.7,466.4 230.0,460.0 C236.3,453.6 236.5,453.8 242.5,447.5 C248.5,441.2 248.2,440.5 252.5,436.3 C256.8,432.1 255.8,432.9 258.8,431.9 C261.8,430.9 261.1,431.0 263.8,432.5 C266.5,434.0 266.1,435.5 268.8,437.5 C271.5,439.5 270.8,439.3 273.8,440.0 C276.8,440.7 276.7,440.7 280.0,440.0 C283.3,439.3 283.0,439.3 286.3,437.5 C289.6,435.7 288.8,435.8 292.5,433.1 C296.2,430.4 296.0,429.7 300.0,427.5 C304.0,425.3 302.8,427.0 307.5,425.0 C312.2,423.0 312.8,422.0 317.5,420.0 C322.2,418.0 320.1,419.1 325.0,417.5 C329.9,415.9 329.9,416.5 336.0,414.0 C342.1,411.5 342.1,411.2 348.0,408.0 C353.9,404.8 353.5,404.5 358.0,402.0 C362.5,399.5 360.5,400.7 365.0,398.8 C369.5,396.9 370.0,396.7 375.0,395.0 C380.0,393.3 379.1,393.8 383.8,392.5 C388.5,391.2 387.5,391.7 392.5,390.0 C397.5,388.3 397.2,388.6 402.5,386.3 C407.8,384.0 407.8,383.6 412.5,381.3 C417.2,379.0 416.0,379.5 420.0,377.5 C424.0,375.5 423.2,376.8 427.5,373.8 C431.8,370.8 431.6,370.0 436.3,366.3 C441.0,362.6 440.0,363.3 445.0,360.0 C450.0,356.7 449.7,357.1 455.0,353.8 C460.3,350.5 460.3,350.8 465.0,347.5 C469.7,344.2 468.5,343.6 472.5,341.3 C476.5,339.0 476.7,339.7 480.0,338.8 C483.3,337.9 482.0,339.4 485.0,338.1 C488.0,336.8 488.0,336.6 491.3,333.8 C494.6,331.0 494.5,331.2 497.5,327.5 C500.5,323.8 499.8,324.7 502.5,320.0 C505.2,315.3 504.8,315.3 507.5,310.0 C510.2,304.7 509.8,305.7 512.5,300.0 C515.2,294.3 515.5,294.1 517.5,288.8 C519.5,283.5 518.0,284.6 520.0,280.0 C522.0,275.4 520.9,279.4 525.0,271.5 C529.1,263.6 530.8,258.9 535.5,250.5 C540.2,242.1 539.6,246.6 542.5,240.0 C545.4,233.4 544.6,231.3 546.4,225.6 C548.2,219.9 547.3,222.8 549.1,218.8 C550.9,214.8 550.6,215.3 553.2,210.5 C555.8,205.7 555.9,206.0 558.8,200.9 C561.7,195.8 560.9,197.2 564.2,191.3 C567.5,185.4 568.2,183.5 571.1,178.9 C574.0,174.3 571.2,177.8 575.2,174.1 C579.2,170.4 581.4,168.2 586.2,165.1 C591.0,162.0 591.3,163.1 593.1,162.4" fill="none" stroke="#c2879e" stroke-width="4.0" stroke-linejoin="round" stroke-linecap="round"/>
<polyline points="86.5,553.5 95.0,548.0 106.0,541.0 114.0,534.0 122.0,527.0 129.5,527.0 137.0,517.0 143.4,507.5 152.4,507.0 156.9,496.3 162.5,479.4 172.6,479.4 182.8,463.1 191.8,463.6 200.8,455.2 210.9,455.2 222.1,441.7 230.0,441.0 240.0,427.5 250.0,427.0 258.8,412.5 268.8,411.3 280.0,389.0 290.0,389.0 300.0,368.0 308.0,368.0 318.0,348.0 328.0,348.0 338.0,327.0 348.0,326.5 358.0,309.0 367.0,309.0 377.0,290.0 386.0,290.0 396.0,270.0 406.0,270.0 416.0,254.0 426.0,255.0 435.0,236.0 446.0,235.5 455.0,216.5 464.0,216.0 475.0,236.5 485.0,236.0 494.0,223.0 505.0,222.2 514.7,207.7 525.7,205.0 534.0,189.9 545.0,187.1 554.6,167.9 564.2,166.5 572.5,153.4 582.1,154.8 592.1,140.6" fill="none" stroke="#874662" stroke-width="4.0" stroke-linejoin="round" stroke-linecap="round"/>
<path d="M101.0,553.5 C102.1,553.7 102.9,553.9 105.0,554.2 C107.1,554.5 105.8,554.7 109.0,554.5 C112.2,554.3 113.5,554.2 117.0,553.6 C120.5,553.0 119.6,553.1 122.0,552.3 C124.4,551.5 123.6,551.7 126.0,550.6 C128.4,549.5 128.3,550.0 131.0,548.0 C133.7,546.0 133.1,545.3 136.3,543.1 C139.5,540.9 139.4,541.6 143.0,539.8 C146.6,538.0 146.2,538.4 149.8,536.4 C153.4,534.4 152.9,534.7 156.5,532.4 C160.1,530.1 159.7,530.1 163.3,527.9 C166.9,525.7 165.7,526.1 170.0,524.0 C174.3,521.9 174.5,523.1 179.4,519.9 C184.3,516.7 183.9,515.6 188.4,512.0 C192.9,508.4 192.1,509.1 196.3,506.4 C200.5,503.7 199.9,504.0 204.1,501.9 C208.3,499.8 208.1,500.6 212.0,498.5 C215.9,496.4 215.5,496.8 218.8,494.0 C222.1,491.2 221.1,491.5 224.4,488.0 C227.7,484.5 227.5,484.5 231.0,481.0 C234.5,477.5 234.0,477.9 237.5,475.0 C241.0,472.1 240.7,472.7 244.0,470.0 C247.3,467.3 247.1,467.1 250.0,465.0 C252.9,462.9 251.0,463.6 255.0,462.3 C259.0,461.0 260.0,461.3 265.0,460.0 C270.0,458.7 269.1,459.2 273.8,457.5 C278.5,455.8 278.2,457.1 282.5,453.8 C286.8,450.5 286.3,449.3 290.0,445.0 C293.7,440.7 293.0,441.2 296.3,437.5 C299.6,433.8 298.8,433.8 302.5,431.3 C306.2,428.8 306.0,430.0 310.0,428.0 C314.0,426.0 313.5,426.3 317.5,423.8 C321.5,421.3 320.1,422.5 325.0,418.8 C329.9,415.1 330.4,413.1 336.0,410.0 C341.6,406.9 340.6,409.7 346.0,407.0 C351.4,404.3 351.2,403.9 356.3,400.0 C361.4,396.1 360.7,395.8 365.0,392.5 C369.3,389.2 367.5,390.3 372.5,387.5 C377.5,384.7 377.5,383.9 383.8,381.9 C390.1,379.9 390.3,380.8 396.3,380.0 C402.3,379.2 401.3,380.0 406.3,378.8 C411.3,377.6 410.7,377.4 415.0,375.6 C419.3,373.8 418.5,374.7 422.5,371.9 C426.5,369.1 426.0,368.8 430.0,365.0 C434.0,361.2 433.2,360.8 437.5,357.5 C441.8,354.2 441.6,355.2 446.3,352.5 C451.0,349.8 450.7,350.8 455.0,347.5 C459.3,344.2 459.2,343.3 462.5,340.0 C465.8,336.7 464.8,337.7 467.5,335.0 C470.2,332.3 469.8,332.3 472.5,330.0 C475.2,327.7 475.5,330.3 477.5,326.3 C479.5,322.3 478.7,322.3 480.0,315.0 C481.3,307.7 481.2,306.5 482.5,298.8 C483.8,291.1 483.3,289.0 485.0,286.3 C486.7,283.6 486.1,289.5 488.8,288.8 C491.5,288.1 492.0,285.8 495.0,283.8 C498.0,281.8 497.3,282.3 500.0,281.3 C502.7,280.3 502.5,281.7 505.0,280.0 C507.5,278.3 506.3,279.1 509.3,275.0 C512.3,270.9 513.4,268.9 516.3,264.5 C519.2,260.1 517.3,261.6 520.2,258.6 C523.1,255.6 523.4,256.0 527.1,253.1 C530.8,250.2 530.7,250.9 534.0,247.6 C537.3,244.3 536.6,244.7 539.5,240.7 C542.4,236.7 542.1,236.2 545.0,232.5 C547.9,228.8 547.6,230.3 550.5,227.0 C553.4,223.7 553.4,224.5 556.0,220.1 C558.6,215.7 557.9,216.0 560.1,210.5 C562.3,205.0 562.0,205.0 564.2,199.5 C566.4,194.0 566.2,193.9 568.4,189.9 C570.6,185.9 569.2,187.3 572.5,184.4 C575.8,181.5 577.0,181.8 580.7,178.9 C584.4,176.0 583.3,175.6 586.2,173.4 C589.1,171.2 590.2,171.3 591.7,170.6" fill="none" stroke="#874662" stroke-width="4.8" stroke-linejoin="round" stroke-linecap="round"/>
<path d="M86.3,551.2 C87.3,550.3 87.9,549.5 90.0,548.0 C92.1,546.5 90.8,547.2 94.0,545.4 C97.2,543.6 97.7,543.6 102.0,541.2 C106.3,538.8 106.2,538.7 110.0,536.4 C113.8,534.1 113.4,533.0 116.4,532.6 C119.4,532.2 118.6,533.8 121.2,534.8 C123.8,535.8 123.4,537.3 126.0,536.4 C128.6,535.5 128.2,534.4 130.8,531.6 C133.4,528.8 132.6,528.8 135.6,526.0 C138.6,523.2 138.2,523.8 142.0,521.2 C145.8,518.6 146.9,517.9 150.0,516.4 C153.1,514.9 150.2,516.3 153.5,515.4 C156.8,514.5 157.7,514.9 162.5,513.1 C167.3,511.3 167.0,510.7 171.5,508.6 C176.0,506.5 175.2,507.1 179.4,505.3 C183.6,503.5 182.8,504.0 187.3,501.9 C191.8,499.8 191.2,500.2 196.3,497.4 C201.4,494.6 201.9,493.7 206.2,491.2 C210.6,488.8 208.5,488.8 212.5,488.1 C216.5,487.4 217.2,490.6 221.2,488.8 C225.2,486.9 223.8,484.2 227.5,481.2 C231.2,478.2 231.0,478.7 235.0,477.5 C239.0,476.3 239.2,478.6 242.5,476.9 C245.8,475.2 244.8,474.8 247.5,471.2 C250.2,467.7 250.2,465.4 252.5,463.8 C254.8,462.1 253.6,463.0 256.2,465.0 C258.9,467.0 258.8,470.6 262.5,471.2 C266.2,471.9 266.0,469.0 270.0,467.5 C274.0,466.0 273.5,466.9 277.5,465.6 C281.5,464.3 281.0,464.5 285.0,462.5 C289.0,460.5 288.5,460.4 292.5,458.1 C296.5,455.8 296.7,456.6 300.0,453.8 C303.3,451.0 301.7,450.4 304.7,447.5 C307.7,444.6 307.5,444.8 311.2,442.8 C314.9,440.8 314.4,441.6 318.7,440.0 C323.0,438.4 322.7,437.3 327.2,436.7 C331.7,436.1 331.6,438.0 335.6,437.6 C339.6,437.2 338.7,436.8 342.2,435.3 C345.7,433.8 345.2,432.7 348.7,432.0 C352.2,431.3 352.0,433.4 355.3,432.5 C358.6,431.6 358.2,431.2 360.9,428.7 C363.6,426.2 363.2,425.4 365.6,423.1 C368.0,420.8 366.7,420.3 370.0,420.2 C373.3,420.1 373.9,423.6 377.9,422.9 C381.9,422.2 381.4,419.8 384.9,417.6 C388.4,415.4 387.7,415.1 391.0,414.6 C394.3,414.1 393.8,416.7 397.1,415.9 C400.4,415.1 400.2,413.6 403.2,411.5 C406.2,409.4 405.7,408.7 408.5,408.0 C411.3,407.3 410.9,409.6 413.7,408.9 C416.5,408.2 416.2,407.2 419.0,405.4 C421.8,403.6 420.9,403.7 424.2,402.3 C427.5,400.9 427.9,401.9 431.2,400.1 C434.5,398.3 434.2,397.0 436.5,395.7 C438.8,394.4 438.1,396.8 440.0,395.3 C441.9,393.8 441.4,392.1 443.8,390.0 C446.2,387.9 446.2,387.7 449.0,387.4 C451.8,387.1 451.7,389.4 454.3,388.9 C456.9,388.4 456.6,388.0 458.8,385.5 C461.0,383.0 460.3,381.9 462.5,379.5 C464.7,377.1 464.6,377.2 467.0,376.5 C469.4,375.8 469.1,376.8 471.5,376.9 C473.9,377.0 473.6,376.6 476.0,376.9 C478.4,377.2 478.1,378.0 480.5,378.0 C482.9,378.0 482.8,378.0 485.0,376.9 C487.2,375.8 486.8,375.1 488.8,373.9 C490.8,372.7 490.3,373.8 492.5,372.4 C494.7,371.0 494.1,371.6 497.0,368.5 C499.9,365.4 499.8,365.8 503.2,360.6 C506.6,355.4 506.7,353.9 509.8,349.1 C512.9,344.3 512.5,346.9 514.7,342.5 C516.9,338.1 516.5,338.0 518.0,332.7 C519.5,327.4 519.2,327.6 520.5,322.8 C521.8,318.0 521.2,318.3 522.9,314.6 C524.6,310.9 524.8,310.2 527.0,308.9 C529.2,307.6 528.7,310.8 531.1,309.7 C533.5,308.6 533.4,308.1 536.0,304.8 C538.6,301.5 538.9,301.3 541.0,297.5 C543.1,293.7 541.5,293.4 543.8,290.5 C546.1,287.6 546.8,288.4 549.8,286.8 C552.8,285.2 552.4,286.7 555.0,284.5 C557.6,282.3 557.1,281.3 559.5,278.5 C561.9,275.7 561.4,275.0 564.0,274.0 C566.6,273.0 567.1,275.0 569.3,274.8 C571.5,274.6 570.3,275.1 572.3,273.3 C574.3,271.5 574.6,270.4 576.8,268.0 C579.0,265.6 578.3,266.1 580.5,264.3 C582.7,262.5 582.8,262.5 585.0,261.3 C587.2,260.1 586.8,260.2 588.8,259.8 C590.8,259.4 591.5,259.8 592.5,259.8" fill="none" stroke="#231f20" stroke-width="5.6" stroke-linejoin="round" stroke-linecap="round"/>
<line x1="594.7" y1="109.4" x2="600.9" y2="103.7" stroke="#c2879e" stroke-width="1.3" stroke-dasharray="2.4 1.8"/>
<line x1="594.7" y1="138.1" x2="601.4" y2="131.9" stroke="#874662" stroke-width="1.3" stroke-dasharray="2.4 1.8"/>
<line x1="596.3" y1="162.2" x2="600.4" y2="161.2" stroke="#c2879e" stroke-width="1.3" stroke-dasharray="2.4 1.8"/>
<line x1="593.7" y1="175" x2="600.4" y2="187.8" stroke="#874662" stroke-width="1.3" stroke-dasharray="2.4 1.8"/>
<line x1="593.5" y1="878" x2="600.5" y2="860" stroke="#98c4ce" stroke-width="1.3" stroke-dasharray="2.4 1.8"/>
<text x="604.31" y="29.5" textLength="171.33" lengthAdjust="spacingAndGlyphs">Health care services</text>
<text x="604.20" y="110.6" textLength="45.53" lengthAdjust="spacingAndGlyphs">Food</text>
<text x="604.27" y="139.5" textLength="85.96" lengthAdjust="spacingAndGlyphs">Education</text>
<text x="605.30" y="168" textLength="59.01" lengthAdjust="spacingAndGlyphs">Shelter</text>
<text x="606.00" y="197.8" textLength="57.43" lengthAdjust="spacingAndGlyphs">Wages</text>
<text x="605.23" y="268" textLength="136.69" lengthAdjust="spacingAndGlyphs">Overall inflation</text>
<text x="605.50" y="454.5" textLength="70.62" lengthAdjust="spacingAndGlyphs">Vehicles</text>
<text x="603.45" y="525.8" textLength="80.11" lengthAdjust="spacingAndGlyphs">Furniture</text>
<text x="606.25" y="578" textLength="138.48" lengthAdjust="spacingAndGlyphs">Toys and games</text>
<text x="604.49" y="646.2" textLength="72.32" lengthAdjust="spacingAndGlyphs">Clothing</text>
<text x="606.25" y="864.3" textLength="175.34" lengthAdjust="spacingAndGlyphs">TVs and video game</text>
<text x="605.26" y="889.6" textLength="76.20" lengthAdjust="spacingAndGlyphs">consoles</text>
<text x="605.27" y="916.2" textLength="131.04" lengthAdjust="spacingAndGlyphs">Computers and</text>
<text x="605.27" y="942" textLength="64.58" lengthAdjust="spacingAndGlyphs">devices</text>
</svg>
</body></html>
